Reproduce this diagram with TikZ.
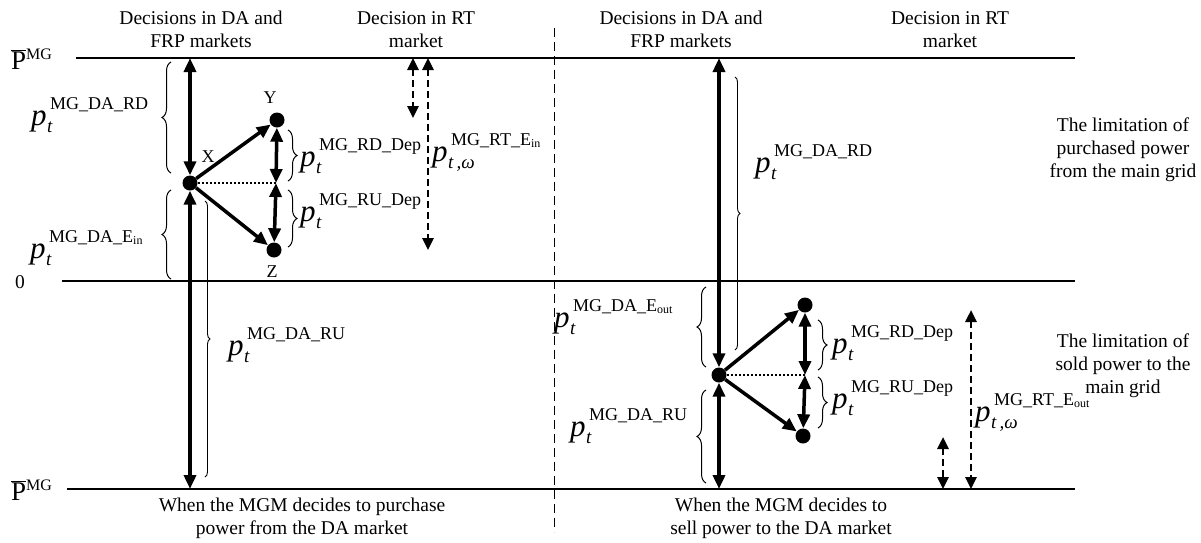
\documentclass[tikz,border=0pt]{standalone}
\usepackage{fontspec}
\setmainfont{Liberation Serif}
\usetikzlibrary{arrows.meta,decorations.pathreplacing}
\newcommand{\plab}[2]{\fontsize{31}{31}\selectfont\itshape p\kern0.5pt\rlap{\raisebox{-7pt}{\fontsize{19}{19}\selectfont\itshape #1}}\kern3pt\raisebox{16pt}{\fontsize{18}{18}\selectfont\upshape #2}}
\newcommand{\lowin}[1]{\raisebox{-2pt}{\fontsize{12}{12}\selectfont #1}}
\newcommand{\pbar}{\ensuremath{\overline{\hbox{\fontsize{27}{27}\selectfont P}}}\raisebox{10pt}{\fontsize{16}{16}\selectfont MG}}
\begin{document}
\begin{tikzpicture}[x=1pt,y=-1pt,
  hl/.style={line width=2.5pt},
  dbl/.style={line width=3.5pt,{Triangle[length=14pt,width=12pt]}-{Triangle[length=14pt,width=12pt]}},
  one/.style={line width=3.5pt,-{Triangle[length=14pt,width=12pt]}},
  dsh/.style={line width=2.7pt,dash pattern=on 7pt off 4pt,{Triangle[length=12pt,width=11pt]}-{Triangle[length=12pt,width=11pt]}},
  dot/.style={circle,fill=black,inner sep=0pt,minimum size=15pt},
  br/.style={decorate,decoration={brace,amplitude=9pt},line width=1pt},
  tbr/.style={decorate,decoration={brace,amplitude=5pt},line width=0.9pt},
  dots/.style={line width=1.2pt,dash pattern=on 2.5pt off 1.5pt},
  txt/.style={font=\fontsize{19.5}{23}\selectfont,align=center,anchor=base,inner sep=0pt},
  lab/.style={anchor=base west,inner sep=0pt},
  letter/.style={font=\fontsize{18}{18}\selectfont,inner sep=0pt}
]
\useasboundingbox (0,0) rectangle (1201,542);

% horizontal lines
\coordinate (t0) at (76,58);  \coordinate (t1) at (1075,58);
\coordinate (m0) at (62,281); \coordinate (m1) at (1075,281);
\coordinate (b0) at (67,489); \coordinate (b1) at (1075,489);
\draw[hl] (t0) -- (t1);
\draw[hl] (m0) -- (m1);
\draw[hl] (b0) -- (b1);

% separator
\coordinate (s0) at (554,28); \coordinate (s1) at (554,532);
\draw[line width=1pt,dash pattern=on 9pt off 5pt] (s0) -- (s1);

% axis labels
\node[lab] (ptop) at (11,69) {\pbar};
\node[lab] (pbot) at (11,500) {\pbar};
\node[lab,font=\fontsize{19.5}{19.5}\selectfont] (zero) at (15,288) {0};

% headers (anchor = baseline of last line)
\node[txt] (h1) at (201,47) {Decisions in DA and\\FRP markets};
\node[txt] (h2) at (416,47) {Decision in RT\\market};
\node[txt] (h3) at (681,47) {Decisions in DA and\\FRP markets};
\node[txt] (h4) at (950,47) {Decision in RT\\market};
\node[txt] (r1) at (1123,177) {The limitation of\\purchased power\\from the main grid};
\node[txt] (r2) at (1123,393) {The limitation of\\sold power to the\\main grid};
\node[txt] (f1) at (302,534) {When the MGM decides to purchase\\power from the DA market};
\node[txt] (f2) at (781,534) {When the MGM decides to\\sell power to the DA market};

% ---------- left panel ----------
\coordinate (LT) at (190,58);
\coordinate (LB) at (190,489);
\node[dot] (X) at (190,183) {};
\node[dot] (Y) at (277,120) {};
\node[dot] (Z) at (274,250) {};
\coordinate (LM) at (276,183);
\draw[dbl] (LT) -- (X);
\draw[dbl] (X) -- (LB);
\draw[one] (X) -- (Y);
\draw[one] (X) -- (Z);
\draw[dbl] (Y) -- (LM);
\draw[dbl] (LM) -- (Z);
\draw[dots] (X) -- (LM);
\node[letter] (lx) at (208,157) {X};
\node[letter] (ly) at (270,98) {Y};
\node[letter] (lz) at (272,272) {Z};

\coordinate (d1a) at (413,58); \coordinate (d1b) at (413,118);
\coordinate (d2a) at (428,58); \coordinate (d2b) at (428,250);
\draw[dsh] (d1a) -- (d1b);
\draw[dsh] (d2a) -- (d2b);

\draw[br] (171,173) -- (171,62);
\draw[br] (171,279) -- (171,190);
\draw[tbr] (205,201) -- (205,477);
\draw[br] (288,130) -- (288,181);
\draw[br] (288,190) -- (288,247);

\node[lab] (L1) at (31,125) {\plab{t}{MG\_DA\_RD}};
\node[lab] (L2) at (30,258) {\plab{t}{MG\_DA\_E\lowin{in}}};
\node[lab] (L3) at (228,355) {\plab{t}{MG\_DA\_RU}};
\node[lab] (L4) at (300,166) {\plab{t}{MG\_RD\_Dep}};
\node[lab] (L5) at (300,221) {\plab{t}{MG\_RU\_Dep}};
\node[lab] (L6) at (432,161) {\plab{t\,,ω}{MG\_RT\_E\lowin{in}}};

% ---------- right panel ----------
\coordinate (RT) at (719,58);
\coordinate (RB) at (719,489);
\node[dot] (X2) at (719,375) {};
\node[dot] (Y2) at (805,305) {};
\node[dot] (Z2) at (803,436) {};
\coordinate (RM) at (805,375);
\draw[dbl] (RT) -- (X2);
\draw[dbl] (X2) -- (RB);
\draw[one] (X2) -- (Y2);
\draw[one] (X2) -- (Z2);
\draw[dbl] (Y2) -- (RM);
\draw[dbl] (RM) -- (Z2);
\draw[dots] (X2) -- (RM);

\coordinate (d3a) at (943,437); \coordinate (d3b) at (943,489);
\coordinate (d4a) at (971,310); \coordinate (d4b) at (971,489);
\draw[dsh] (d3a) -- (d3b);
\draw[dsh] (d4a) -- (d4b);

\draw[tbr] (735,77) -- (735,350);
\draw[br] (706,367) -- (706,287);
\draw[br] (706,483) -- (706,390);
\draw[br] (818,320) -- (818,370);
\draw[br] (818,377) -- (818,428);

\node[lab] (R1) at (755,172) {\plab{t}{MG\_DA\_RD}};
\node[lab] (R2) at (554,327) {\plab{t}{MG\_DA\_E\lowin{out}}};
\node[lab] (R3) at (570,436) {\plab{t}{MG\_DA\_RU}};
\node[lab] (R4) at (832,353) {\plab{t}{MG\_RD\_Dep}};
\node[lab] (R5) at (832,408) {\plab{t}{MG\_RU\_Dep}};
\node[lab] (R6) at (975,421) {\plab{t\,,ω}{MG\_RT\_E\lowin{out}}};
\end{tikzpicture}
\end{document}
